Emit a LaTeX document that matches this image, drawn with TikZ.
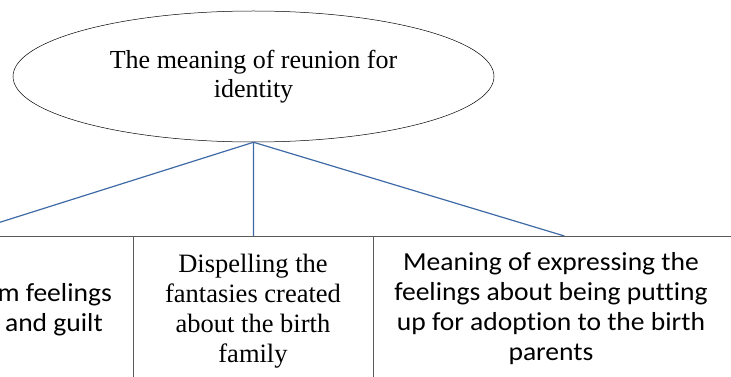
\documentclass[tikz,border=0pt]{standalone}
\usepackage{fontspec}
\setmainfont{Liberation Serif}
\newfontfamily\calfont{Carlito}[FakeStretch=1.06,Ligatures=NoCommon]
\usetikzlibrary{shapes.geometric}
\definecolor{conncol}{RGB}{62,106,166}
\definecolor{boxline}{RGB}{90,90,90}
\begin{document}
\begin{tikzpicture}[x=1pt,y=-1pt,
  cell/.style={draw=boxline,line width=0.8pt,rectangle,inner sep=0pt,anchor=north west},
  conn/.style={draw=conncol,line width=1.2pt},
  serif/.style={font=\fontsize{26.5}{30}\selectfont,align=center,inner sep=0pt},
  sans/.style={font=\calfont\fontsize{26}{30}\selectfont,align=center,inner sep=0pt}]
\clip (0,0) rectangle (731,377);
\node[ellipse,draw,line width=0.5pt,minimum width=481pt,minimum height=131pt,inner sep=0pt,
      font=\fontsize{26}{29}\selectfont,align=center] (root) at (253.5,76.5)
      {The meaning of reunion for\\identity};
\node[cell,minimum width=354pt,minimum height=184pt] (lbox) at (-221,236) {};
\node[cell,minimum width=240pt,minimum height=184pt] (mbox) at (133,236) {};
\node[cell,minimum width=382pt,minimum height=184pt] (rbox) at (373,236) {};
\node[sans,align=right,anchor=north east] (ltext) at (112,283) {m feelings\\and guilt\hspace*{9pt}};
\node[serif,anchor=north] (mtext) at (253,254) {Dispelling the\\fantasies created\\about the birth\\family};
\node[sans,anchor=north] (rtext) at (551,252) {Meaning of expressing the\\feelings about being putting\\up for adoption to the birth\\parents};
\draw[conn] (root.south) -- (lbox.north);
\draw[conn] (root.south) -- (mbox.north);
\draw[conn] (root.south) -- (rbox.north);
\end{tikzpicture}
\end{document}
